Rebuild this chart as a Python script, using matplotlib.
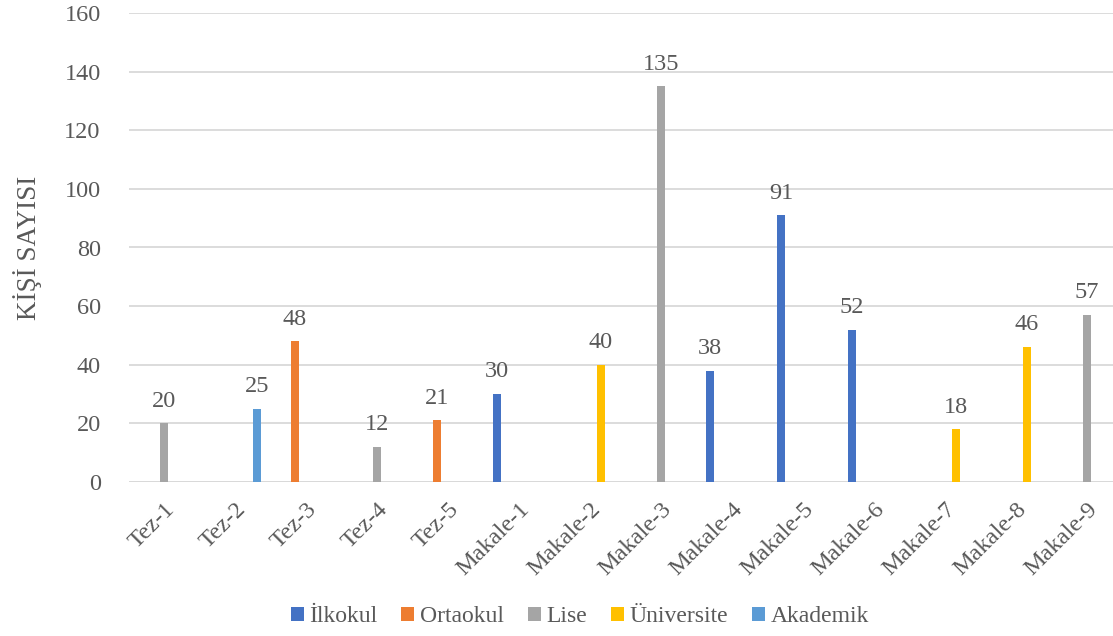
import matplotlib
matplotlib.use("Agg")
import matplotlib.pyplot as plt
import numpy as np

categories = ["Tez-1", "Tez-2", "Tez-3", "Tez-4", "Tez-5", "Makale-1", "Makale-2",
              "Makale-3", "Makale-4", "Makale-5", "Makale-6", "Makale-7", "Makale-8", "Makale-9"]
series_names = ["İlkokul", "Ortaokul", "Lise", "Üniversite", "Akademik"]
ilkokul    = [0, 0, 0, 0, 0, 30, 0, 0, 38, 91, 52, 0, 0, 0]
ortaokul   = [0, 0, 48, 0, 21, 0, 0, 0, 0, 0, 0, 0, 0, 0]
lise       = [20, 0, 0, 12, 0, 0, 0, 135, 0, 0, 0, 0, 0, 57]
universite = [0, 0, 0, 0, 0, 0, 40, 0, 0, 0, 0, 18, 46, 0]
akademik   = [0, 25, 0, 0, 0, 0, 0, 0, 0, 0, 0, 0, 0, 0]
yticks = [0, 20, 40, 60, 80, 100, 120, 140, 160]

colors = ["#4472C4", "#ED7D31", "#A5A5A5", "#FFC000", "#5B9BD5"]
text_color = "#595959"
plt.rcParams['font.family'] = ['Liberation Serif', 'DejaVu Serif']

W, H = 1113, 636
fig = plt.figure(figsize=(W / 100, H / 100), dpi=100)
left, right = 128.5, 1113
top, bottom = 13, 482
ax = fig.add_axes([left / W, 1 - bottom / H, (right - left) / W, (bottom - top) / H])

x = np.arange(len(categories))
spacing = 0.155
bw = 0.118
all_series = [ilkokul, ortaokul, lise, universite, akademik]
for i, (name, vals, c) in enumerate(zip(series_names, all_series, colors)):
    off = (i - 2) * spacing
    ax.bar(x + off, vals, width=bw, color=c, label=name, zorder=3)
    for xi, v in zip(x, vals):
        if v:
            ax.text(xi + off, v + 4, str(v), ha="center", va="bottom",
                    fontsize=17.5, color=text_color)

ax.set_xlim(-0.5, -0.5 + (right - left) / 71.0)
ax.set_ylim(0, 160)
ax.set_yticks(yticks)
ax.set_yticklabels([str(t) for t in yticks], fontsize=17.5, color=text_color)
ax.yaxis.grid(True, color="#D9D9D9", linewidth=1.3, zorder=0)
ax.set_axisbelow(True)
for s in ["top", "right", "left", "bottom"]:
    ax.spines[s].set_visible(False)
ax.axhline(0, color="#D9D9D9", linewidth=1.3, zorder=1)
ax.tick_params(axis="both", length=0)
ax.tick_params(axis="y", pad=20)
ax.set_xticks(x)
ax.set_xticklabels(categories, rotation=45, ha="right", rotation_mode="anchor",
                   fontsize=17.5, color=text_color)
ax.tick_params(axis="x", pad=12)
ax.set_ylabel("KİŞİ SAYISI", fontsize=19.5, color=text_color, labelpad=16)

handles, labels = ax.get_legend_handles_labels()
fig.legend(handles, labels, loc="center", bbox_to_anchor=(580 / W, 1 - 617 / H),
           ncol=5, frameon=False, fontsize=17, handlelength=0.55, handleheight=0.55,
           handletextpad=0.25, columnspacing=1.0, labelcolor=text_color)

fig.savefig("out.png", dpi=100)
